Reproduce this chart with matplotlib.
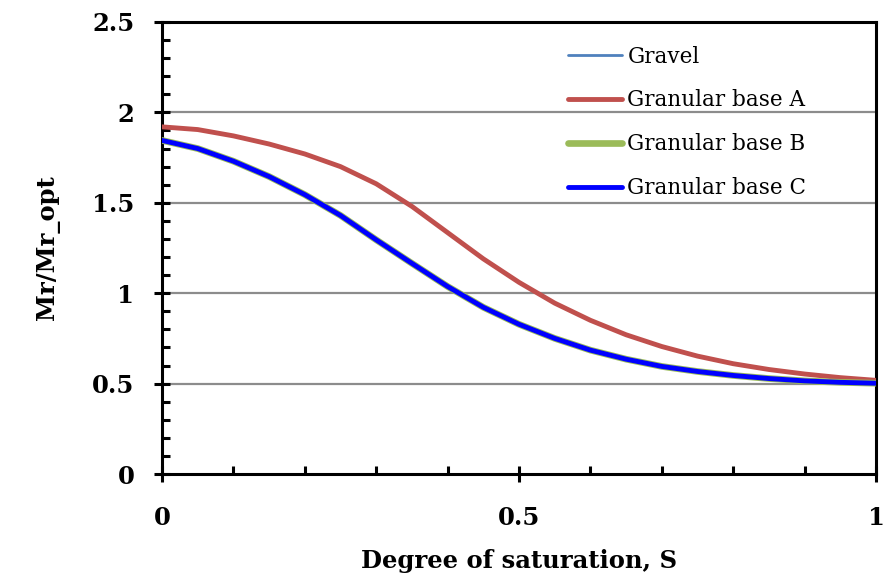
import matplotlib
matplotlib.use("Agg")
import matplotlib.pyplot as plt
from matplotlib.ticker import MultipleLocator

S = [0.0, 0.05, 0.1, 0.15, 0.2, 0.25, 0.3, 0.35, 0.4, 0.45, 0.5,
     0.55, 0.6, 0.65, 0.7, 0.75, 0.8, 0.85, 0.9, 0.95, 1.0]
gravel = [1.845, 1.80, 1.73, 1.645, 1.545, 1.43, 1.295, 1.165, 1.037, 0.922, 0.828,
          0.75, 0.685, 0.635, 0.595, 0.567, 0.545, 0.528, 0.515, 0.507, 0.502]
base_a = [1.92, 1.905, 1.87, 1.825, 1.77, 1.70, 1.605, 1.48, 1.335, 1.19, 1.06,
          0.945, 0.85, 0.77, 0.705, 0.652, 0.61, 0.578, 0.553, 0.533, 0.518]
base_b = [1.845, 1.80, 1.73, 1.645, 1.545, 1.43, 1.295, 1.165, 1.037, 0.922, 0.828,
          0.75, 0.685, 0.635, 0.595, 0.567, 0.545, 0.528, 0.515, 0.507, 0.502]
base_c = [1.845, 1.80, 1.73, 1.645, 1.545, 1.43, 1.295, 1.165, 1.037, 0.922, 0.828,
          0.75, 0.685, 0.635, 0.595, 0.567, 0.545, 0.528, 0.515, 0.507, 0.502]
labels = ["Gravel", "Granular base A", "Granular base B", "Granular base C"]
y_ticks = [0, 0.5, 1, 1.5, 2, 2.5]
y_ticklabels = ["0", "0.5", "1", "1.5", "2", "2.5"]
x_ticks = [0, 0.5, 1]
x_ticklabels = ["0", "0.5", "1"]

serif = ["DejaVu Serif", "Liberation Serif"]
plt.rcParams['font.family'] = serif

fig = plt.figure(figsize=(8.84, 5.77), dpi=100)
ax = fig.add_axes([0.1833, 0.1785, 0.8077, 0.7834])

ax.plot(S, gravel, color="#4F81BD", lw=2.0, label=labels[0], solid_capstyle='round', zorder=3)
ax.plot(S, base_a, color="#C0504D", lw=3.5, label=labels[1], solid_capstyle='round', zorder=3)
ax.plot(S, base_b, color="#9BBB59", lw=4.8, label=labels[2], solid_capstyle='round', zorder=3)
ax.plot(S, base_c, color="#0000FF", lw=3.5, label=labels[3], solid_capstyle='round', zorder=4)

ax.set_xlim(0, 1)
ax.set_ylim(0, 2.5)
ax.set_xticks(x_ticks)
ax.set_xticklabels(x_ticklabels)
ax.set_yticks(y_ticks)
ax.set_yticklabels(y_ticklabels)
ax.xaxis.set_minor_locator(MultipleLocator(0.1))
ax.yaxis.set_minor_locator(MultipleLocator(0.1))

for v in y_ticks[1:-1]:
    ax.axhline(v, color="#8c8c8c", lw=1.6, zorder=1)

for sp in ax.spines.values():
    sp.set_linewidth(2.2)
    sp.set_color("black")

ax.tick_params(axis='both', which='major', direction='inout', length=12, width=2.2,
               labelsize=17.5)
ax.tick_params(axis='y', which='major', pad=14)
ax.tick_params(axis='x', which='major', pad=17)
ax.tick_params(axis='both', which='minor', direction='in', length=5.5, width=2.2)
for t in ax.get_xticklabels() + ax.get_yticklabels():
    t.set_fontweight('bold')

ax.set_xlabel("Degree of saturation, S", fontsize=17.5, fontweight='bold', labelpad=14)
ax.set_ylabel("Mr/Mr_opt", fontsize=17.5, fontweight='bold', labelpad=23)

leg = ax.legend(loc='upper left', bbox_to_anchor=(0.556, 0.967), frameon=False,
                fontsize=15.5, handlelength=2.53, handletextpad=0.25, labelspacing=1.02,
                borderaxespad=0)

fig.savefig("out.png", dpi=100)
